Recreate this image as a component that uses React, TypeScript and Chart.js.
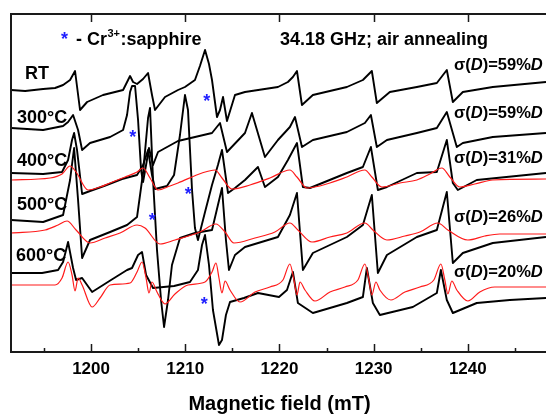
import React, { useEffect, useRef } from 'react';
import { Chart, registerables } from 'chart.js';

Chart.register(...registerables);

// ---------- data (field in mT, signal in arbitrary units) ----------
const fieldRT = [1191.51,1193.0,1194.91,1196.18,1197.03,1197.77,1198.3,1198.83,1199.58,1201.27,1203.4,1203.93,1204.14,1204.46,1204.88,1205.52,1206.05,1206.47,1206.79,1207.85,1209.23,1209.97,1211.03,1211.56,1212.1,1212.52,1212.84,1213.37,1213.69,1214.01,1214.43,1215.28,1216.34,1219.84,1220.9,1221.43,1221.86,1222.39,1223.55,1227.16,1228.86,1229.81,1230.34,1231.72,1234.59,1236.71,1237.77,1238.41,1239.47,1242.65,1248.3];
const signalRT = [262,261,263,264,267,272,281,242,250,257,262,272,276,270,268,273,279,257,242,255,262,265,272,286,302,288,272,235,242,255,231,257,260,265,270,275,281,247,257,265,272,281,249,260,265,269,282,250,260,265,270];

const field300 = [1191.51,1194.91,1197.03,1197.56,1198.09,1198.62,1199.05,1199.89,1202.02,1203.4,1203.82,1204.14,1204.35,1204.67,1204.99,1205.31,1205.52,1205.84,1206.15,1206.58,1207.11,1209.23,1212.84,1213.69,1214.43,1216.34,1217.08,1218.46,1219.84,1221.11,1221.65,1222.39,1223.55,1227.16,1229.07,1229.71,1230.34,1231.41,1234.59,1236.71,1237.77,1238.83,1239.47,1242.65,1248.3];
const signal300 = [224,222,226,230,237,222,202,209,215,222,237,260,266,266,232,182,170,187,204,187,200,211,219,229,200,219,239,195,212,225,235,205,212,220,229,237,205,212,219,224,240,205,209,215,219];

const field400 = [1191.51,1194.91,1196.92,1197.56,1197.98,1198.2,1198.51,1199.05,1199.89,1201.38,1203.29,1204.88,1205.52,1206.05,1206.47,1206.79,1208.06,1208.81,1209.44,1209.97,1210.29,1210.72,1211.03,1211.35,1212.1,1212.84,1213.47,1213.9,1214.54,1215.28,1216.34,1217.72,1218.46,1219.84,1220.9,1221.86,1222.49,1223.24,1227.16,1228.86,1229.71,1230.45,1231.41,1234.59,1236.71,1237.77,1238.41,1238.94,1240.95,1248.3];
const signal400 = [179,178,180,192,212,219,202,158,161,166,173,177,187,202,177,163,166,177,217,257,242,162,124,112,140,167,187,202,159,164,172,185,165,175,192,209,165,164,179,185,205,162,165,179,180,212,169,162,172,179];

const field500 = [1191.51,1194.91,1197.03,1197.77,1198.2,1198.62,1199.05,1199.89,1202.02,1203.82,1204.88,1205.52,1206.05,1206.26,1206.58,1207.0,1207.43,1207.75,1208.17,1208.59,1209.44,1211.03,1212.84,1213.47,1213.9,1214.32,1214.64,1215.28,1216.34,1219.84,1221.11,1221.86,1222.49,1223.55,1227.16,1228.86,1229.81,1230.45,1231.41,1234.59,1236.71,1237.35,1237.77,1238.41,1239.47,1242.65,1248.3];
const signal500 = [132,130,137,172,204,152,94,112,120,127,135,179,234,244,172,102,52,25,52,87,114,119,122,147,164,112,82,97,105,115,137,159,82,99,115,127,157,79,97,115,122,145,160,89,99,109,115];

const field600 = [1191.51,1194.8,1196.5,1197.03,1197.56,1198.09,1198.41,1199.05,1200.11,1202.12,1203.82,1204.35,1204.99,1205.41,1205.84,1206.58,1208.81,1210.5,1211.35,1211.78,1212.1,1212.52,1212.94,1213.58,1213.9,1214.32,1214.75,1216.23,1217.72,1219.95,1220.8,1221.43,1221.96,1223.55,1227.16,1228.86,1229.28,1229.92,1230.66,1234.16,1236.71,1237.14,1237.77,1238.41,1240.95,1244.46,1248.3];
const signal600 = [79,79,82,90,110,84,72,74,60,72,82,84,97,100,77,64,66,70,82,107,117,87,42,7,12,37,50,54,59,55,62,80,49,39,49,55,84,49,37,45,59,82,52,39,49,52,54];

const fieldSim400 = [1191.51,1195.65,1196.92,1197.77,1198.41,1199.68,1200.95,1202.02,1203.61,1204.88,1205.52,1206.26,1207.11,1208.38,1209.23,1211.78,1213.16,1213.9,1214.96,1216.87,1218.99,1221.11,1221.86,1222.92,1225.36,1227.16,1229.07,1229.81,1230.88,1232.79,1234.59,1235.97,1237.24,1238.09,1239.15,1240.74,1242.65,1248.3];
const signalSim400 = [172,174,178,186,180,162,165,169,175,180,184,174,162,166,169,179,182,174,163,167,174,182,175,164,169,175,182,175,165,169,172,178,184,175,165,168,172,173];

const fieldSim500 = [1191.51,1195.12,1196.5,1197.45,1198.41,1199.89,1201.49,1203.08,1204.88,1205.73,1207.32,1208.91,1211.56,1213.26,1214.22,1215.17,1217.4,1219.52,1221.11,1221.96,1223.45,1225.36,1227.16,1229.07,1229.92,1231.41,1233.32,1234.91,1236.82,1237.88,1240.0,1241.8,1243.39,1248.3];
const signalSim500 = [119,122,127,131,122,109,114,119,127,124,108,112,120,128,120,109,114,120,129,122,110,115,119,129,122,112,116,120,129,122,112,116,118,118];

const fieldSim600 = [1191.51,1196.18,1196.92,1197.56,1197.98,1198.3,1198.62,1199.05,1200.11,1200.95,1202.02,1204.14,1204.88,1205.41,1205.84,1206.15,1206.47,1207.0,1207.85,1208.91,1210.29,1212.1,1212.84,1213.26,1213.58,1213.9,1214.22,1214.75,1215.81,1217.4,1218.99,1220.37,1221.11,1221.54,1221.86,1222.18,1222.71,1223.77,1225.36,1226.95,1228.33,1229.07,1229.5,1229.81,1230.24,1230.66,1231.83,1233.32,1234.91,1236.39,1237.14,1237.56,1237.88,1238.3,1238.83,1240.0,1241.27,1242.86,1248.3];
const signalSim600 = [67,67,74,90,77,61,74,67,45,54,67,69,80,90,74,59,70,60,48,58,67,70,80,89,74,59,71,62,50,60,65,72,88,72,57,70,62,51,60,65,72,88,72,57,70,62,52,60,65,72,88,72,58,71,62,51,60,65,65];

const xMin = 1191.5;
const xMax = 1248.3;
const yMin = 0;
const yMax = 338;
const xTickValues = [1200, 1210, 1220, 1230, 1240];
const xMinorTickValues = [1195, 1205, 1215, 1225, 1235, 1245];
const xTitle = 'Magnetic field (mT)';
const sampleLabels = ['RT', '300°C', '400°C', '500°C', '600°C'];
const sigmaValues = ['59', '59', '31', '26', '20'];
const starFields = [1212.28, 1204.42, 1210.32, 1206.5, 1212.02];
const starSignals = [255, 219, 162, 136, 52];
const legendText = ['- Cr', '3+', ':sapphire'];
const conditionText = '34.18 GHz; air annealing';

const FONT = '"Liberation Sans", Arial, Helvetica, sans-serif';
const BLACK = '#000000';
const RED = '#ff1a1a';
const BLUE = '#1f1fff';

function pts(xs: number[], ys: number[]) {
  return xs.map((x, i) => ({ x, y: ys[i] }));
}

const framePlugin = {
  id: 'frame',
  afterDraw(chart: any) {
    const { ctx, chartArea, scales } = chart;
    const xs = scales.x;
    const ys = scales.y;
    const { left, top, bottom, right } = chartArea;
    ctx.save();
    ctx.strokeStyle = '#1a1a1a';
    ctx.lineWidth = 2;
    ctx.beginPath();
    ctx.moveTo(left, top);
    ctx.lineTo(right + 2, top);
    ctx.moveTo(left, top - 1);
    ctx.lineTo(left, bottom + 1);
    ctx.moveTo(left - 1, bottom);
    ctx.lineTo(right + 2, bottom);
    ctx.stroke();
    ctx.lineWidth = 1.5;
    ctx.beginPath();
    for (const v of xTickValues) {
      const px = Math.round(xs.getPixelForValue(v)) + 0.5;
      ctx.moveTo(px, bottom);
      ctx.lineTo(px, bottom - 8);
      ctx.moveTo(px, top);
      ctx.lineTo(px, top + 8);
    }
    for (const v of xMinorTickValues) {
      const px = Math.round(xs.getPixelForValue(v)) + 0.5;
      ctx.moveTo(px, bottom);
      ctx.lineTo(px, bottom - 4);
    }
    ctx.stroke();

    // axis title
    ctx.fillStyle = '#000';
    ctx.textAlign = 'center';
    ctx.textBaseline = 'alphabetic';
    ctx.font = `bold 20px ${FONT}`;
    ctx.fillText(xTitle, (left + right) / 2 + 1, 410);

    // header texts
    ctx.textAlign = 'left';
    ctx.font = `bold 18px ${FONT}`;
    ctx.fillStyle = BLUE;
    ctx.fillText('*', 61, 45);
    ctx.fillStyle = '#000';
    let cx = 76;
    ctx.fillText(legendText[0], cx, 45);
    cx += ctx.measureText(legendText[0]).width;
    ctx.font = `bold 11px ${FONT}`;
    ctx.fillText(legendText[1], cx + 0.5, 37);
    cx += ctx.measureText(legendText[1]).width + 1;
    ctx.font = `bold 18px ${FONT}`;
    ctx.fillText(legendText[2], cx, 45);
    ctx.fillText(conditionText, 280, 45);

    // sample labels on the left
    const leftX = [25, 17, 17, 17, 16];
    const leftY = [79, 123, 166, 210, 261];
    ctx.font = `bold 18px ${FONT}`;
    sampleLabels.forEach((t, i) => ctx.fillText(t, leftX[i], leftY[i]));

    // sigma labels on the right
    const rightY = [70, 118, 163, 222, 277];
    sigmaValues.forEach((val, i) => {
      const parts: [string, string][] = [
        ['σ(', 'bold'],
        ['D', 'italic bold'],
        [')=' + val + '%', 'bold'],
        ['D', 'italic bold'],
      ];
      let x = 454;
      for (const [t, st] of parts) {
        ctx.font = `${st} 16.5px ${FONT}`;
        ctx.fillText(t, x, rightY[i]);
        x += ctx.measureText(t).width;
      }
    });

    // Cr3+ markers
    ctx.fillStyle = BLUE;
    ctx.textAlign = 'center';
    ctx.font = `bold 18px ${FONT}`;
    starFields.forEach((f, i) => {
      const px = xs.getPixelForValue(f);
      const py = ys.getPixelForValue(starSignals[i]);
      ctx.fillText('*', px, py + 10);
    });
    ctx.restore();
  },
};

export default function App() {
  const ref = useRef<HTMLCanvasElement | null>(null);

  useEffect(() => {
    if (!ref.current) return;
    const black = (xs: number[], ys: number[]) => ({
      data: pts(xs, ys),
      borderColor: BLACK,
      borderWidth: 1.9,
      pointRadius: 0,
      tension: 0,
      fill: false,
      borderJoinStyle: 'round' as const,
    });
    const red = (xs: number[], ys: number[]) => ({
      data: pts(xs, ys),
      borderColor: RED,
      borderWidth: 1.2,
      pointRadius: 0,
      cubicInterpolationMode: 'monotone' as const,
      fill: false,
    });
    const chart = new Chart(ref.current, {
      type: 'line',
      data: {
        datasets: [
          red(fieldSim400, signalSim400),
          red(fieldSim500, signalSim500),
          red(fieldSim600, signalSim600),
          black(fieldRT, signalRT),
          black(field300, signal300),
          black(field400, signal400),
          black(field500, signal500),
          black(field600, signal600),
        ],
      },
      options: {
        responsive: false,
        animation: false,
        events: [],
        layout: { padding: { left: 11, top: 14, right: 0, bottom: 0 } },
        plugins: { legend: { display: false }, tooltip: { enabled: false } },
        scales: {
          x: {
            type: 'linear',
            min: xMin,
            max: xMax,
            afterBuildTicks: (s: any) => {
              s.ticks = xTickValues.map((v) => ({ value: v }));
            },
            afterFit: (s: any) => {
              s.height = 62;
            },
            grid: { display: false, drawTicks: false },
            border: { display: false },
            ticks: {
              padding: 7,
              color: '#000',
              maxRotation: 0,
              autoSkip: false,
              font: { family: FONT, size: 17, weight: 'bold' },
              callback: (v: any) => String(v),
            },
          },
          y: { display: false, min: yMin, max: yMax },
        },
      },
      plugins: [framePlugin],
    } as any);
    return () => chart.destroy();
  }, []);

  return (
    <div style={{ position: 'fixed', left: 0, top: 0, width: 546, height: 414, background: '#fff' }}>
      <canvas ref={ref} width={546} height={414} style={{ display: 'block' }} />
    </div>
  );
}
